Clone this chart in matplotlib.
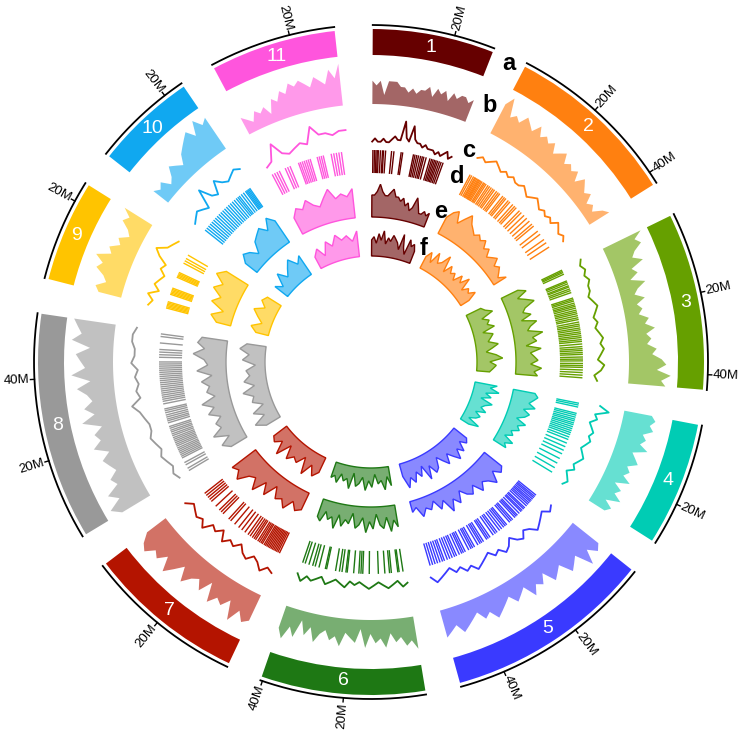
import numpy as np
import matplotlib.pyplot as plt
from matplotlib.colors import to_rgba

plt.rcParams['font.family'] = ['Liberation Sans', 'DejaVu Sans']

# chromosomes, lengths in Mb, colours
chroms = ['1', '2', '3', '4', '5', '6', '7', '8', '9', '10', '11']
lengths = [30, 43, 43.7, 30.6, 51, 40.5, 39, 56, 25, 25, 31]
colors = ['#660000', '#ff8010', '#66a000', '#00ccb4', '#3a3aff', '#1e7814',
          '#b41400', '#999999', '#ffc400', '#10a8f0', '#ff55dd']

# track b: outer density (0-9)
b_vals = [
    [5, 4, 5, 2, 5, 5, 5, 4, 4, 3, 4, 3, 4, 4, 5, 3, 5, 4, 5, 3, 5, 4, 5, 5, 4, 5],
    [7, 9, 5, 6, 5, 7, 6, 5, 7, 5, 6, 5, 6, 4, 5, 6, 4, 5, 4, 5, 3, 5, 4, 3, 4, 2, 3, 2, 4, 5],
    [9, 7, 8, 6, 5, 7, 4, 5, 3, 6, 4, 3, 5, 3, 4, 3, 5, 4, 6, 4, 5, 4, 6, 5, 7, 8, 6, 9, 7, 8],
    [6, 7, 6, 7, 5, 6, 5, 7, 4, 5, 6, 4, 5, 4, 6, 3, 5, 4, 6, 3, 5, 4],
    [7, 8, 6, 9, 5, 6, 7, 4, 5, 6, 3, 5, 4, 6, 3, 4, 5, 3, 4, 5, 6, 4, 5, 3, 4, 5, 6, 4, 5, 6],
    [7, 5, 6, 4, 5, 3, 6, 4, 5, 3, 6, 2, 5, 4, 3, 6, 4, 5, 3, 4, 6, 3, 5, 2, 6, 4, 7, 5],
    [6, 7, 5, 8, 4, 6, 5, 7, 3, 6, 4, 5, 7, 4, 6, 8, 5, 7, 6, 8, 7, 5],
    [7, 9, 6, 8, 5, 6, 4, 5, 6, 4, 7, 5, 6, 4, 8, 5, 7, 5, 6, 8, 5, 9, 6, 7, 8, 5, 9, 7, 8, 9],
    [5, 6, 4, 5, 7, 6, 8, 5, 6, 4, 5, 3, 4, 6, 5, 7],
    [4, 3, 4, 2, 3, 5, 4, 3, 5, 6, 7, 8, 6, 9, 7, 8],
    [4, 3, 2, 4, 3, 4, 2, 5, 4, 6, 5, 7, 6, 7, 6, 5, 7, 6, 5, 8, 6, 9],
]

# track c: line (0-9)
c_vals = [
    [2, 3, 2, 2, 3, 2, 2, 3, 4, 3, 3, 9, 4, 3, 8, 4, 3, 3, 2, 3, 2, 2, 2, 1, 2, 1, 2, 3, 1, 2],
    [5, 6, 5, 6, 7, 6, 5, 6, 5, 6, 5, 5, 6, 5, 4, 5, 6, 5, 4, 5, 4, 5, 4, 6, 5, 4, 5, 4],
    [6, 5, 6, 5, 6, 5, 5, 4, 5, 6, 5, 4, 5, 4, 5, 6, 5, 6, 5, 4, 6, 5, 3, 4],
    [6, 9, 5, 6, 4, 5, 6, 5, 6, 5, 4, 5, 6, 5, 4, 5, 3, 4, 5, 4],
    [5, 6, 4, 5, 6, 7, 5, 4, 6, 5, 3, 5, 6, 4, 5, 3, 4, 5, 6, 4, 5, 3, 4, 2, 3, 4, 5, 3],
    [3, 4, 2, 3, 4, 3, 2, 3, 4, 3, 2, 3, 2, 4, 3, 2, 3, 4, 2, 3, 4, 3, 5, 3],
    [6, 5, 7, 5, 4, 6, 5, 3, 5, 4, 6, 3, 5, 4, 7, 5, 6, 5, 4, 6],
    [3, 4, 3, 4, 5, 4, 5, 6, 5, 5, 6, 7, 9, 6, 7, 6, 7, 6, 8, 7, 7, 8, 8, 7],
    [5, 4, 6, 3, 5, 4, 3, 5, 4, 7, 9, 6, 5, 4],
    [3, 4, 5, 4, 3, 9, 5, 4, 8, 6, 5, 6, 7, 6],
    [2, 3, 8, 4, 3, 4, 5, 4, 9, 6, 6, 5, 6, 6],
]

# track d: feature positions (Mb)
d_pos = [
    [0.3, 0.9, 1.5, 2.0, 2.4, 3.2, 4.0, 4.4, 5.2, 7.5, 8.4, 11.2, 11.8, 16.0, 16.6, 17.3, 18.0,
     18.8, 19.5, 20.1, 21.0, 22.5, 23.2, 23.8, 24.4, 25.0, 25.6, 26.3, 27.0, 27.8],
    [0.5, 1.2, 2.0, 2.6, 3.0, 3.5, 4.0, 4.4, 4.8, 5.3, 5.8, 6.5, 7.0, 7.6, 8.5, 9.2, 10.0, 10.8,
     11.5, 12.5, 13.3, 14.0, 15.5, 16.3, 17.0, 18.2, 19.0, 20.5, 21.5, 22.3, 24.0, 25.0, 26.5,
     28.0, 29.5, 31.0, 32.0, 34.5, 36.0, 38.5, 40.0, 42.0],
    [0.5, 1.0, 1.5, 2.2, 5.0, 5.5, 6.2, 7.0, 7.5, 8.3, 9.0, 9.8, 12.0, 12.6, 13.2, 14.0, 14.7,
     15.3, 16.0, 16.8, 17.5, 18.2, 19.0, 19.8, 20.5, 21.5, 22.3, 23.0, 23.8, 24.5, 25.3, 26.0,
     26.8, 27.5, 28.3, 29.0, 30.0, 31.0, 31.8, 32.5, 33.3, 34.0, 35.0, 35.8, 36.5, 37.5, 38.3,
     39.0, 40.0, 41.0, 42.0, 43.0],
    [0.5, 1.2, 2.0, 4.5, 5.2, 6.0, 6.8, 7.5, 8.3, 9.0, 9.8, 10.6, 11.4, 12.2, 13.0, 14.0, 15.0,
     16.5, 18.0, 19.5, 21.0, 23.0, 25.0, 27.0, 29.0],
    [0.5, 1.2, 1.8, 2.5, 3.2, 3.8, 4.5, 5.2, 6.0, 7.0, 7.6, 8.4, 9.0, 10.0, 11.0, 11.6, 12.3,
     13.5, 14.2, 15.0, 16.5, 17.2, 18.0, 19.0, 20.0, 21.2, 22.0, 23.0, 24.5, 25.3, 26.0, 27.5,
     28.3, 29.0, 30.0, 31.5, 32.3, 33.0, 34.0, 35.5, 36.3, 37.0, 38.0, 39.2, 40.0, 41.0, 42.0,
     43.0, 44.2, 45.0, 46.0, 47.0, 48.0, 49.0, 50.0],
    [1.0, 2.5, 3.0, 5.5, 6.2, 8.0, 10.5, 14.0, 16.5, 17.2, 18.0, 20.0, 22.5, 23.0, 24.5, 25.5,
     27.0, 30.5, 31.0, 33.5, 35.0, 36.0, 37.5, 39.0, 40.0],
    [0.5, 1.2, 1.8, 2.4, 3.0, 3.6, 4.2, 4.8, 5.4, 6.0, 6.6, 7.2, 8.0, 8.6, 9.3, 10.0, 11.0,
     11.7, 12.5, 13.5, 14.5, 16.0, 17.5, 19.0, 21.0, 23.0, 24.0, 27.0, 28.0, 29.0, 31.0, 33.5,
     34.5, 35.5, 36.5, 37.5],
    [0.5, 1.5, 3.0, 4.0, 6.0, 6.7, 7.4, 8.1, 8.8, 9.5, 10.2, 11.0, 11.7, 12.4, 13.1, 13.8, 14.5,
     15.3, 16.0, 16.8, 17.5, 18.3, 19.0, 20.5, 21.3, 22.0, 22.8, 23.6, 24.5, 25.3, 26.0, 28.0,
     29.0, 29.8, 30.6, 31.4, 32.2, 33.0, 33.8, 34.6, 35.4, 36.2, 37.0, 37.8, 38.6, 39.4, 40.2,
     41.0, 41.8, 42.6, 43.4, 44.2, 46.0, 47.0, 48.0, 49.0, 51.5, 54.0, 55.0],
    [0.5, 1.0, 1.5, 2.0, 2.5, 3.0, 6.0, 6.5, 7.0, 7.5, 8.0, 8.5, 13.0, 13.5, 14.0, 14.5, 15.0,
     19.0, 20.0, 21.0, 22.5],
    [0.5, 1.5, 2.5, 3.5, 4.5, 5.5, 6.5, 7.5, 8.5, 9.5, 10.5, 11.5, 12.5, 13.5, 14.5, 15.5, 16.5,
     17.5, 18.3, 19.0, 20.0, 21.0, 22.0, 22.5, 23.0, 23.5, 24.0],
    [0.5, 1.5, 2.5, 3.5, 6.0, 7.0, 8.0, 11.5, 12.2, 13.0, 13.8, 14.6, 15.4, 16.2, 19.0, 19.8,
     20.6, 21.4, 24.5, 25.5, 26.5, 27.5, 28.5],
]

# track e (0-9)
e_vals = [
    [6, 6, 7, 9, 7, 6, 6, 7, 8, 6, 6, 5, 6, 4, 5, 3, 4, 7, 5, 3, 3, 4, 3, 4],
    [5, 7, 8, 5, 7, 9, 7, 6, 5, 6, 5, 6, 4, 5, 3, 4, 5, 3, 4, 3, 2, 4],
    [5, 7, 4, 6, 8, 5, 4, 6, 3, 7, 5, 4, 8, 5, 6, 3, 7, 4, 5, 6, 4, 7, 5, 6],
    [6, 7, 6, 5, 7, 4, 6, 5, 3, 6, 4, 5, 3, 4, 2, 5, 3, 4],
    [6, 7, 5, 8, 6, 5, 7, 4, 6, 5, 3, 6, 4, 7, 3, 5, 2, 4, 3, 5, 2, 3],
    [6, 4, 7, 3, 6, 5, 2, 6, 4, 7, 3, 5, 6, 2, 5, 4, 6, 3, 7, 4, 5, 3, 6, 5],
    [5, 6, 4, 7, 5, 6, 3, 7, 4, 8, 5, 6, 9, 7, 8],
    [5, 7, 4, 8, 5, 6, 4, 7, 5, 8, 4, 6, 5, 7, 4, 8, 5, 6, 9, 6, 8, 7],
    [4, 6, 3, 7, 5, 8, 6, 9, 7],
    [4, 6, 5, 3, 6, 7, 8, 6, 9, 7],
    [5, 7, 6, 8, 6, 5, 7, 9, 6, 7, 6, 8],
]

# track f (0-9)
f_vals = [
    [5, 6, 4, 7, 5, 8, 4, 6, 5, 7, 6, 5, 3, 8, 4, 2, 7, 5, 6, 4],
    [4, 6, 3, 7, 4, 5, 8, 3, 6, 4, 5, 3, 6, 4, 7, 3, 5, 4, 6, 3],
    [5, 6, 8, 4, 6, 5, 7, 3, 6, 5, 4, 7, 5, 3, 6, 8, 4, 6, 5, 4],
    [7, 5, 8, 4, 6, 3, 7, 5, 4, 6, 3, 5, 4, 2, 6, 3],
    [5, 6, 4, 7, 5, 8, 6, 4, 7, 5, 3, 6, 7, 4, 8, 3, 6, 4, 7, 5, 8, 4],
    [6, 3, 7, 4, 5, 2, 6, 4, 7, 3, 5, 6, 2, 7, 4, 5, 3, 6, 4, 5],
    [5, 7, 4, 8, 3, 6, 5, 7, 3, 8, 4, 6, 5],
    [5, 8, 4, 7, 3, 6, 5, 8, 4, 7, 5, 6, 3, 7, 5, 8, 6],
    [4, 6, 3, 5, 7, 4, 6, 5],
    [5, 3, 7, 4, 6, 8, 5, 7],
    [4, 6, 3, 7, 5, 8, 6, 7, 5, 8],
]

track_labels = ['a', 'b', 'c', 'd', 'e', 'f']

# layout (degrees clockwise from top, radii in pixels)
DEG_PER_MB = 0.705
GAP = 6.1
OFFSET = 0.3
R_IDEO = (307, 333)
R_AXIS = 337
R_B = (258, 300)
R_C = (214, 243)
R_D = (189, 212)
R_E = (145, 178)
R_F = (106, 135)

starts = []
a = OFFSET
for L in lengths:
    starts.append(a)
    a += L * DEG_PER_MB + GAP


def theta(ci, pos):
    return np.deg2rad(starts[ci] + np.asarray(pos) * DEG_PER_MB)


def area(ax, ci, vals, rr, edge):
    pos = np.linspace(0, lengths[ci], len(vals))
    th = theta(ci, pos)
    r = rr[0] + np.asarray(vals) / 9.0 * (rr[1] - rr[0])
    arc = np.linspace(th[-1], th[0], 120)
    xs = np.concatenate([th, arc])
    ys = np.concatenate([r, np.full(arc.size, rr[0])])
    ax.fill(xs, ys, facecolor=to_rgba(colors[ci], 0.6),
            edgecolor=colors[ci] if edge else 'none', lw=1.0 if edge else 0)


fig = plt.figure(figsize=(7.4, 7.31), dpi=100)
ax = fig.add_axes([11 / 740, 9 / 731, 720 / 740, 720 / 731], projection='polar')
ax.set_theta_zero_location('N')
ax.set_theta_direction(-1)
ax.set_ylim(0, 360)
ax.axis('off')

for ci, name in enumerate(chroms):
    L = lengths[ci]
    col = colors[ci]
    t0, t1 = theta(ci, 0), theta(ci, L)
    # ideogram
    ax.bar((t0 + t1) / 2, R_IDEO[1] - R_IDEO[0], width=t1 - t0, bottom=R_IDEO[0],
           color=col, edgecolor='none')
    ax.text((t0 + t1) / 2, (R_IDEO[0] + R_IDEO[1]) / 2, name, color='white',
            fontsize=14, ha='center', va='center')
    # axis arc and ticks
    arc = np.linspace(t0, t1, 150)
    ax.plot(arc, np.full(arc.size, R_AXIS), color='black', lw=1.3)
    for m in range(20, int(L) + 1, 20):
        tt = theta(ci, m)
        ax.plot([tt, tt], [R_AXIS, R_AXIS + 4], color='black', lw=1.0)
        deg = np.rad2deg(tt)
        if deg < 180:
            rot, ha = 90 - deg, 'left'
        else:
            rot, ha = 270 - deg, 'right'
        ax.text(tt, R_AXIS + 5, f'{m}M', fontsize=9.5, rotation=rot,
                rotation_mode='anchor', ha=ha, va='center')

    # b
    area(ax, ci, b_vals[ci], R_B, False)
    # c
    pos = np.linspace(0, L, len(c_vals[ci]))
    ax.plot(theta(ci, pos), R_C[0] + np.asarray(c_vals[ci]) / 9.0 * (R_C[1] - R_C[0]),
            color=col, lw=1.3)
    # d
    for p in d_pos[ci]:
        tt = theta(ci, p)
        ax.plot([tt, tt], [R_D[0], R_D[1]], color=col, lw=1.0, solid_capstyle='butt')
    # e, f
    area(ax, ci, e_vals[ci], R_E, True)
    area(ax, ci, f_vals[ci], R_F, True)

lab_deg = np.deg2rad(24.8)
for lab, rr in zip(track_labels, [(320, 330), R_B, R_C, R_D, R_E, R_F]):
    ax.text(lab_deg, (rr[0] + rr[1]) / 2 + 4, lab, fontsize=17, fontweight='bold',
            ha='center', va='center')

fig.savefig('out.png', dpi=100)
